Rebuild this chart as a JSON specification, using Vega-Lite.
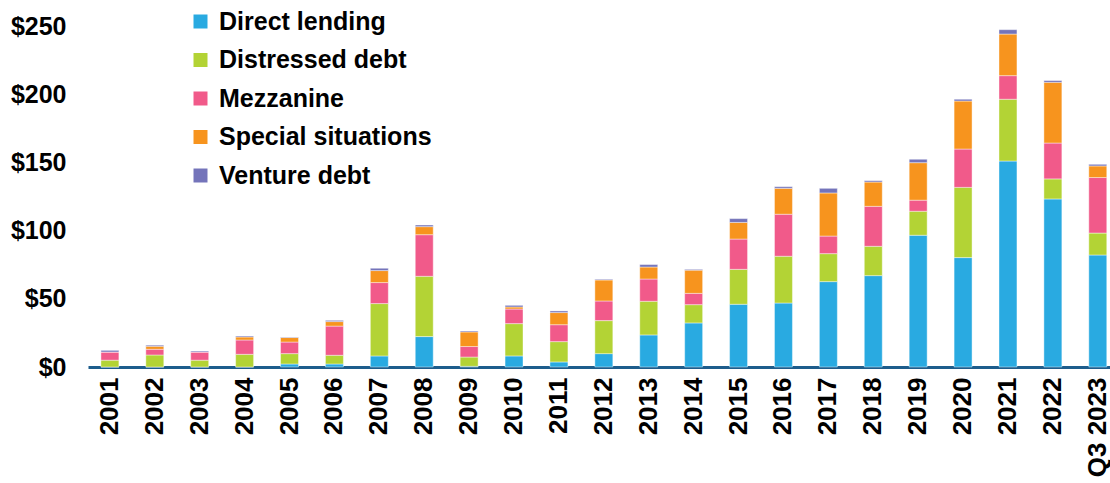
{
  "$schema": "https://vega.github.io/schema/vega-lite/v6.json",
  "width": 1022,
  "height": 341,
  "autosize": {"type": "none"},
  "padding": {"left": 88, "top": 26, "right": 0, "bottom": 116},
  "background": "white",
  "config": {
    "view": {"stroke": null},
    "font": "Liberation Sans"
  },
  "data": {
    "values": [
      {"year": "2001", "Direct lending": 0, "Distressed debt": 5, "Mezzanine": 6, "Special situations": 0, "Venture debt": 1.2},
      {"year": "2002", "Direct lending": 0, "Distressed debt": 8.8, "Mezzanine": 4.2, "Special situations": 2.2, "Venture debt": 0.8},
      {"year": "2003", "Direct lending": 0, "Distressed debt": 5, "Mezzanine": 6, "Special situations": 0, "Venture debt": 0.7},
      {"year": "2004", "Direct lending": 0, "Distressed debt": 9.3, "Mezzanine": 10.5, "Special situations": 2.2, "Venture debt": 0.7},
      {"year": "2005", "Direct lending": 2.2, "Distressed debt": 7.6, "Mezzanine": 8.5, "Special situations": 3.3, "Venture debt": 0.4},
      {"year": "2006", "Direct lending": 2.2, "Distressed debt": 6.4, "Mezzanine": 21.4, "Special situations": 3.3, "Venture debt": 0.9},
      {"year": "2007", "Direct lending": 8.1, "Distressed debt": 38.4, "Mezzanine": 15.4, "Special situations": 8.8, "Venture debt": 1.7},
      {"year": "2008", "Direct lending": 22.3, "Distressed debt": 44.2, "Mezzanine": 30.5, "Special situations": 5.9, "Venture debt": 1.2},
      {"year": "2009", "Direct lending": 0.5, "Distressed debt": 6.8, "Mezzanine": 7.7, "Special situations": 10.7, "Venture debt": 0.7},
      {"year": "2010", "Direct lending": 8.1, "Distressed debt": 23.7, "Mezzanine": 10.7, "Special situations": 1.5, "Venture debt": 1.2},
      {"year": "2011", "Direct lending": 3.7, "Distressed debt": 14.9, "Mezzanine": 12.4, "Special situations": 8.9, "Venture debt": 1.2},
      {"year": "2012", "Direct lending": 9.8, "Distressed debt": 24.2, "Mezzanine": 14.4, "Special situations": 15.4, "Venture debt": 0.5},
      {"year": "2013", "Direct lending": 23.5, "Distressed debt": 24.7, "Mezzanine": 16.3, "Special situations": 8.8, "Venture debt": 1.8},
      {"year": "2014", "Direct lending": 32.3, "Distressed debt": 13.4, "Mezzanine": 8.3, "Special situations": 17, "Venture debt": 0.6},
      {"year": "2015", "Direct lending": 46, "Distressed debt": 25.6, "Mezzanine": 22.2, "Special situations": 12.2, "Venture debt": 2.8},
      {"year": "2016", "Direct lending": 46.9, "Distressed debt": 34.3, "Mezzanine": 30.8, "Special situations": 19, "Venture debt": 1.2},
      {"year": "2017", "Direct lending": 62.6, "Distressed debt": 20.5, "Mezzanine": 12.9, "Special situations": 31.6, "Venture debt": 3.4},
      {"year": "2018", "Direct lending": 67, "Distressed debt": 21.5, "Mezzanine": 29.3, "Special situations": 17.8, "Venture debt": 1},
      {"year": "2019", "Direct lending": 96.6, "Distressed debt": 17.6, "Mezzanine": 8.1, "Special situations": 27.5, "Venture debt": 2.5},
      {"year": "2020", "Direct lending": 80.2, "Distressed debt": 51.5, "Mezzanine": 28.1, "Special situations": 35.2, "Venture debt": 1.3},
      {"year": "2021", "Direct lending": 151, "Distressed debt": 45.3, "Mezzanine": 17.3, "Special situations": 30.5, "Venture debt": 3.2},
      {"year": "2022", "Direct lending": 123.2, "Distressed debt": 14.7, "Mezzanine": 26.3, "Special situations": 44.5, "Venture debt": 1.3},
      {"year": "Q3 2023", "Direct lending": 82.1, "Distressed debt": 16.1, "Mezzanine": 40.7, "Special situations": 8.5, "Venture debt": 1.2}
    ]
  },
  "transform": [
    {"fold": ["Direct lending", "Distressed debt", "Mezzanine", "Special situations", "Venture debt"], "as": ["series", "value"]}
  ],
  "mark": {"type": "bar", "stroke": "white", "strokeWidth": 0.6, "strokeOpacity": 0.7},
  "encoding": {
    "x": {
      "field": "year",
      "type": "nominal",
      "sort": null,
      "scale": {"paddingInner": 0.6, "paddingOuter": 0.18, "align": 0.8},
      "axis": {
        "title": null,
        "labelAngle": -90,
        "labelAlign": "right",
        "labelBaseline": "middle",
        "labelFontSize": 26,
        "labelFontWeight": "bold",
        "labelColor": "black",
        "labelPadding": 10,
        "ticks": false,
        "domainColor": "#1d5d8c",
        "domainWidth": 3
      }
    },
    "y": {
      "field": "value",
      "type": "quantitative",
      "stack": "zero",
      "scale": {"domain": [0, 250], "nice": false},
      "axis": {
        "title": null,
        "values": [0, 50, 100, 150, 200, 250],
        "labelExpr": "'$' + datum.value",
        "labelFontSize": 25,
        "labelFontWeight": "bold",
        "labelColor": "black",
        "labelPadding": 22,
        "ticks": false,
        "domain": false,
        "grid": false
      }
    },
    "color": {
      "field": "series",
      "type": "nominal",
      "scale": {
        "domain": ["Direct lending", "Distressed debt", "Mezzanine", "Special situations", "Venture debt"],
        "range": ["#29aae1", "#b3d335", "#f15a8a", "#f7941e", "#7474ba"]
      },
      "legend": {
        "title": null,
        "orient": "none",
        "legendX": 100,
        "legendY": -17,
        "symbolType": "square",
        "symbolSize": 196,
        "symbolStrokeWidth": 0,
        "symbolOpacity": 1,
        "labelFontSize": 25,
        "labelFontWeight": "bold",
        "labelColor": "black",
        "labelOffset": 6,
        "rowPadding": 12.5,
        "labelLimit": 400
      }
    },
    "order": {"field": "series", "sort": "ascending"}
  }
}
